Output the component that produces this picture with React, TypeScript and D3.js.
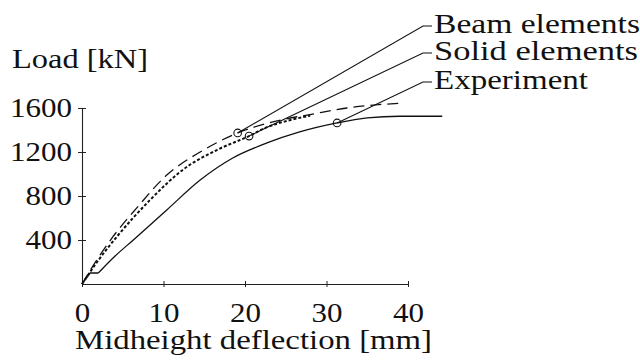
import { useEffect, useRef } from 'react';
import * as d3 from 'd3';

// deflection [mm], load [kN]
const beamElements: [number, number][] = [
  [0, 0], [2, 240], [3.8, 430], [6.7, 690], [10.4, 990], [14.5, 1200], [19.1, 1373],
  [24.7, 1495], [28.3, 1545], [32.5, 1600], [39.4, 1645],
];
const solidElements: [number, number][] = [
  [0, 0], [2, 215], [4.5, 450], [8.3, 760], [12.4, 1040], [16.6, 1220], [20.5, 1345],
  [22.5, 1420], [25, 1480], [28, 1530],
];
const experiment: [number, number][] = [
  [0, 0], [1, 100], [2, 100], [4, 250], [6.3, 400], [10.4, 673], [14.5, 945], [18.5, 1145],
  [22.7, 1282], [26.7, 1382], [31.3, 1464], [35, 1510], [39, 1525], [44.2, 1525],
];
// failure points marked with circles
const failurePoints: [number, number][] = [[19.1, 1373], [20.5, 1345], [31.3, 1464]];
const seriesNames = ['Beam elements', 'Solid elements', 'Experiment'];
const xTicks = [0, 10, 20, 30, 40];
const yTicks = [400, 800, 1200, 1600];

const FONT = 'Liberation Serif, Times New Roman, Times, serif';

export default function App() {
  const svgRef = useRef<SVGSVGElement>(null);

  useEffect(() => {
    if (!svgRef.current) return;
    const svg = d3.select(svgRef.current);
    svg.selectAll('*').remove();

    const x = d3.scaleLinear().domain([0, 40]).range([82, 408]);
    const y = d3.scaleLinear().domain([0, 1600]).range([284, 108]);

    // Axes
    const yAxis = svg.append('g')
      .attr('transform', `translate(${x(0)},0)`)
      .call(d3.axisLeft(y).tickValues(yTicks).tickFormat(d3.format('d')).tickSize(4).tickSizeOuter(0).tickPadding(6));
    yAxis.selectAll('.tick line').attr('x1', 4).attr('x2', -4);

    const xAxis = svg.append('g')
      .attr('transform', `translate(0,${y(0)})`)
      .call(d3.axisBottom(x).tickValues(xTicks).tickFormat(d3.format('d')).tickSize(3).tickSizeOuter(0).tickPadding(16));
    xAxis.selectAll('.tick line').attr('y1', -3).attr('y2', 3);

    [yAxis, xAxis].forEach(ax => {
      ax.attr('font-family', FONT).attr('font-size', 27);
      ax.select('.domain').attr('stroke', '#222').attr('stroke-width', 1.1);
      ax.selectAll('.tick line').attr('stroke', '#222').attr('stroke-width', 1);
      ax.selectAll('.tick text')
        .attr('fill', '#111')
        .attr('textLength', (d: any) => String(d).length * 15.5)
        .attr('lengthAdjust', 'spacingAndGlyphs');
    });

    const addText = (tx: number, ty: number, len: number, s: string) =>
      svg.append('text')
        .attr('x', tx).attr('y', ty)
        .attr('textLength', len).attr('lengthAdjust', 'spacingAndGlyphs')
        .attr('font-family', FONT).attr('font-size', 27).attr('fill', '#111')
        .text(s);

    // Axis titles
    addText(12, 68, 136, 'Load [kN]');
    addText(75, 349, 357, 'Midheight deflection [mm]');

    // Curves
    const smooth = d3.line<[number, number]>()
      .x(d => x(d[0]))
      .y(d => y(d[1]))
      .curve(d3.curveMonotoneX);
    const straight = d3.line<[number, number]>()
      .x(d => x(d[0]))
      .y(d => y(d[1]));

    // experiment: sharp kink near the origin, smooth afterwards
    svg.append('path').datum(experiment.slice(0, 3))
      .attr('fill', 'none').attr('stroke', '#111').attr('stroke-width', 1.3)
      .attr('d', straight);
    svg.append('path').datum(experiment.slice(2))
      .attr('fill', 'none').attr('stroke', '#111').attr('stroke-width', 1.3)
      .attr('d', smooth);

    svg.append('path').datum(beamElements)
      .attr('fill', 'none').attr('stroke', '#111').attr('stroke-width', 1.3)
      .attr('stroke-dasharray', '11,6')
      .attr('d', smooth);

    svg.append('path').datum(solidElements)
      .attr('fill', 'none').attr('stroke', '#111').attr('stroke-width', 2)
      .attr('stroke-dasharray', '3,2')
      .attr('d', smooth);

    // Failure markers
    svg.selectAll('circle.fail')
      .data(failurePoints)
      .join('circle')
      .attr('class', 'fail')
      .attr('cx', d => x(d[0]))
      .attr('cy', d => y(d[1]))
      .attr('r', 3.8)
      .attr('fill', 'none')
      .attr('stroke', '#111')
      .attr('stroke-width', 1.1);

    // Labels with leader lines
    const labelX = 434;
    const labelBase = [33, 60, 89];
    const labelWidth = [206, 204, 154];
    seriesNames.forEach((name, i) => {
      const ly = labelBase[i] - 7;
      const [px, py] = failurePoints[i];
      svg.append('path')
        .attr('d', `M${labelX - 2},${ly}H${labelX - 11}L${x(px)},${y(py)}`)
        .attr('fill', 'none').attr('stroke', '#111').attr('stroke-width', 1.1);
      addText(labelX, labelBase[i], labelWidth[i], name);
    });
  }, []);

  return (
    <svg
      ref={svgRef}
      width={640}
      height={361}
      style={{ position: 'absolute', left: 0, top: 0, background: '#fff' }}
    />
  );
}
